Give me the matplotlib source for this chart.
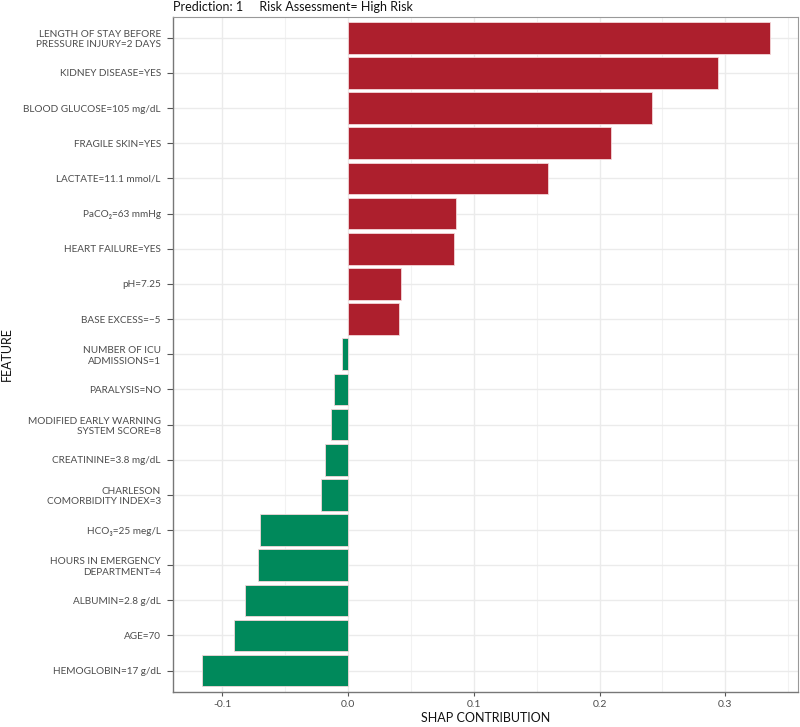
import matplotlib
matplotlib.use("Agg")
import matplotlib.pyplot as plt
import numpy as np

# --- dane ---
features = [
    "LENGTH OF STAY BEFORE\nPRESSURE INJURY=2 DAYS",
    "KIDNEY DISEASE=YES",
    "BLOOD GLUCOSE=105 mg/dL",
    "FRAGILE SKIN=YES",
    "LACTATE=11.1 mmol/L",
    "PaCO₂=63 mmHg",
    "HEART FAILURE=YES",
    "pH=7.25",
    "BASE EXCESS=−5",
    "NUMBER OF ICU\nADMISSIONS=1",
    "PARALYSIS=NO",
    "MODIFIED EARLY WARNING\nSYSTEM SCORE=8",
    "CREATININE=3.8 mg/dL",
    "CHARLESON\nCOMORBIDITY INDEX=3",
    "HCO₃=25 meg/L",
    "HOURS IN EMERGENCY\nDEPARTMENT=4",
    "ALBUMIN=2.8 g/dL",
    "AGE=70",
    "HEMOGLOBIN=17 g/dL",
]
shap_values = [0.3355, 0.294, 0.242, 0.2095, 0.159, 0.0857, 0.0844, 0.0418, 0.0402,
               -0.0048, -0.011, -0.0137, -0.0185, -0.0217, -0.0703, -0.0714,
               -0.0822, -0.0905, -0.1163]
x_ticks = [-0.1, 0.0, 0.1, 0.2, 0.3]
x_minor = [-0.15, -0.05, 0.05, 0.15, 0.25, 0.35]

RED = '#AD1F2D'
GREEN = '#00895B'
FONT = ['Lato', 'DejaVu Sans']

plt.rcParams['font.family'] = FONT

fig = plt.figure(figsize=(8, 7.27), dpi=100)
ax = fig.add_axes([0.2166, 0.0485, 0.998 - 0.2166, 0.977 - 0.0485])

y = np.arange(len(features))
colors = [RED if v > 0 else GREEN for v in shap_values]
ax.barh(y, shap_values, height=0.9, color=colors, edgecolor='#f4d6d9', linewidth=0.6, zorder=3)

ax.set_yticks(y)
ax.set_yticklabels(features, fontsize=7.2, color='#4d4d4d', linespacing=1.2)
ax.set_xticks(x_ticks)
ax.set_xticklabels([f"{t:.1f}" for t in x_ticks], fontsize=7.5, color='#4d4d4d')
ax.set_xticks(x_minor, minor=True)
ax.tick_params(axis='y', length=4, width=0.8, color='#555555', pad=5)
ax.tick_params(axis='x', which='major', length=3, width=0.8, color='#555555', pad=3)
ax.tick_params(axis='x', which='minor', length=0)

# zakresy jak w ggplot (5% rozszerzenia) - po ustawieniu ticków
lo, hi = min(shap_values), max(shap_values)
pad = 0.05 * (hi - lo)
ax.set_xlim(lo - pad, hi + pad)
ax.set_ylim(len(features) - 0.4, -0.6)

ax.grid(True, which='major', color='#ebebeb', linewidth=1.0, zorder=0)
ax.grid(True, which='minor', axis='x', color='#f2f2f2', linewidth=0.8, zorder=0)
ax.set_axisbelow(True)

for side in ['left', 'bottom']:
    ax.spines[side].set_color('#777777')
    ax.spines[side].set_linewidth(1.0)
for side in ['top', 'right']:
    ax.spines[side].set_color('#999999')
    ax.spines[side].set_linewidth(0.8)

ax.set_xlabel("SHAP CONTRIBUTION", fontsize=9, color='#111111', va='center')
ax.xaxis.set_label_coords(0.5, -0.0395)
ax.set_ylabel("FEATURE", fontsize=9, color='#111111', va='center')
ax.yaxis.set_label_coords(-0.266, 0.5)

fig.text(0.2166, 0.991, "Prediction: 1     Risk Assessment= High Risk",
         fontsize=9, color='#111111', ha='left', va='center')

plt.savefig("out.png", dpi=100)
